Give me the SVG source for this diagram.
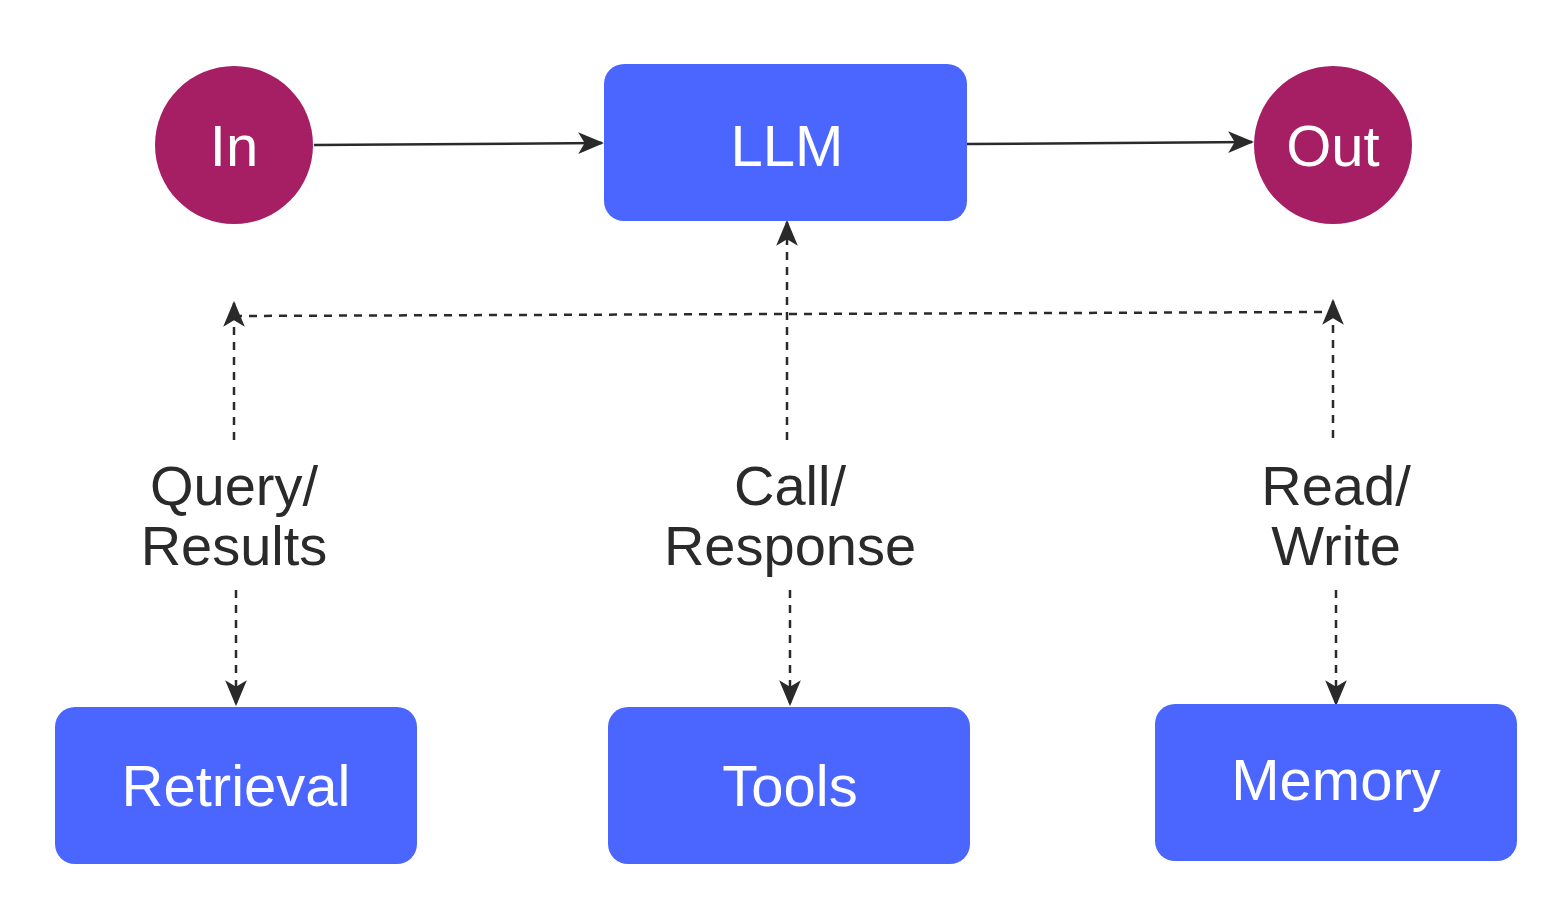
<svg xmlns="http://www.w3.org/2000/svg" width="1567" height="922" viewBox="0 0 1567 922">
<style>
.c{fill:#A61E63}.r{fill:#4A66FF}
.t{font-family:"Liberation Sans",Arial,sans-serif;font-size:58px;fill:#fff;text-anchor:middle}
.l{font-family:"Liberation Sans",Arial,sans-serif;font-size:56px;fill:#2a2a2a;text-anchor:middle}
.e{stroke:#2a2a2a;stroke-width:2.5;fill:none}
.d{stroke-dasharray:8 7}
</style>
<defs><marker id="a" viewBox="0 0 12 10" refX="11" refY="5" markerWidth="12" markerHeight="10" markerUnits="userSpaceOnUse" orient="auto"><path d="M0,0 L12,5 L0,10 L3,5 z" fill="#2a2a2a"/></marker>
<marker id="b" viewBox="0 0 12 10" refX="11" refY="5" markerWidth="26" markerHeight="24" markerUnits="userSpaceOnUse" orient="auto"><path d="M0,0 L12,5 L0,10 L3,5 z" fill="#2a2a2a"/></marker></defs>
<rect width="1567" height="922" fill="#fff"/>
<g id="edges">
<path class="e" d="M314,145 L602,143" marker-end="url(#b)"/>
<path class="e" d="M967,144 L1252,142" marker-end="url(#b)"/>
<path class="e d" d="M234,316 L1333,312"/>
<path class="e d" d="M234,440 L234,303" marker-end="url(#b)"/>
<path class="e d" d="M787,440 L787,222" marker-end="url(#b)"/>
<path class="e d" d="M1333,438 L1333,301" marker-end="url(#b)"/>
<path class="e d" d="M236,590 L236,704" marker-end="url(#b)"/>
<path class="e d" d="M790,590 L790,704" marker-end="url(#b)"/>
<path class="e d" d="M1336,590 L1336,704" marker-end="url(#b)"/>
</g>
<g id="in"><circle class="c" cx="234" cy="145" r="79"/><text class="t" x="234" y="166">In</text></g>
<g id="llm"><rect class="r" x="604" y="64" width="363" height="157" rx="20"/><text class="t" x="787" y="166">LLM</text></g>
<g id="out"><circle class="c" cx="1333" cy="145" r="79"/><text class="t" x="1333" y="166">Out</text></g>
<g id="retrieval"><rect class="r" x="55" y="707" width="362" height="157" rx="20"/><text class="t" x="236" y="806">Retrieval</text></g>
<g id="tools"><rect class="r" x="608" y="707" width="362" height="157" rx="20"/><text class="t" x="790" y="806">Tools</text></g>
<g id="memory"><rect class="r" x="1155" y="704" width="362" height="157" rx="20"/><text class="t" x="1336" y="800">Memory</text></g>
<g id="labels">
<text class="l" x="234" y="505">Query/</text><text class="l" x="234" y="565">Results</text>
<text class="l" x="790" y="505">Call/</text><text class="l" x="790" y="565">Response</text>
<text class="l" x="1336" y="505">Read/</text><text class="l" x="1336" y="565">Write</text>
</g>
</svg>
